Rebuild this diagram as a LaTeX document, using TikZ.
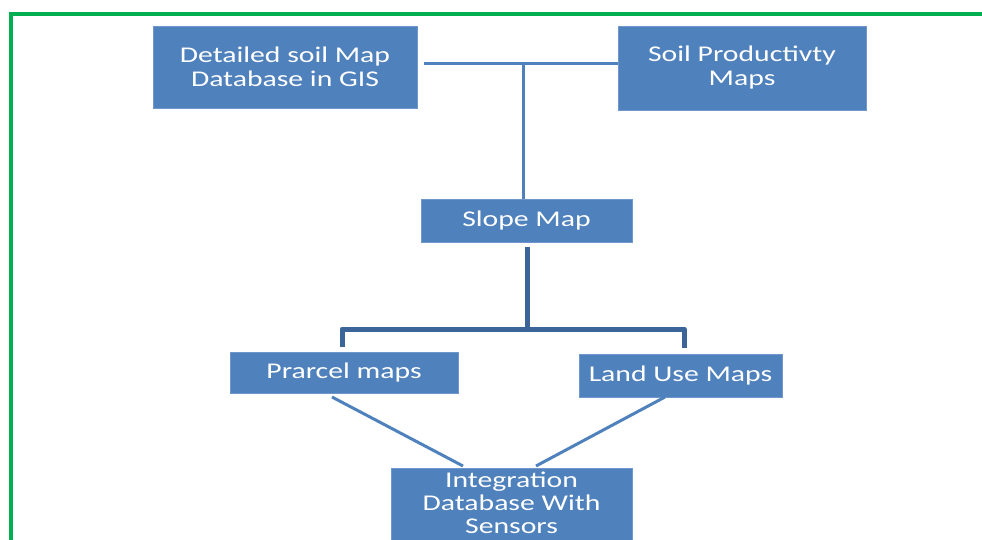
\documentclass[tikz,border=0pt]{standalone}
\usepackage{fontspec}
\newfontfamily\boxfont[FakeStretch=1.32]{Carlito}
\definecolor{boxblue}{HTML}{4F81BD}
\definecolor{boxedge}{HTML}{6F97CB}
\definecolor{darkline}{HTML}{3B6498}
\definecolor{frame}{HTML}{00B050}
\tikzset{
  boxtext/.style={text=white, align=center, inner sep=0pt,
    font=\boxfont\fontsize{22.5}{24}\selectfont},
  boxnode/.style={rectangle, fill=boxblue, draw=boxedge, line width=0.8pt, boxtext},
  thinlink/.style={draw=boxblue, line width=3pt},
  thicklink/.style={draw=darkline, line width=5pt, line join=round},
}
\begin{document}
\begin{tikzpicture}[x=1pt,y=-1pt]
\useasboundingbox (0,0) rectangle (982,540);
\begin{scope}
\clip (0,0) rectangle (982,540);
% frame
\draw[frame, line width=4pt] (11,560) -- (11,14) -- (1000,14);
% boxes
\node[boxnode, minimum width=264, minimum height=82] (b1) at (285,67)
  {Detailed soil Map\\Database in GIS};
\node[boxnode, minimum width=248, minimum height=84] (b2) at (742,68)
  {Soil Productivty\\Maps};
\node[boxnode, minimum width=211, minimum height=43] (slope) at (526.5,220.5)
  {Slope Map};
\node[boxnode, minimum width=228, minimum height=41] (parcel) at (344,372.5)
  {Prarcel maps};
\node[boxnode, minimum width=203, minimum height=43] (land) at (680.5,375.5)
  {Land Use Maps};
\node[boxnode, minimum width=241, minimum height=76,
  label={[boxtext, font=\boxfont\fontsize{22.5}{23}\selectfont, yshift=3pt]center:{Integration\\Database With\\Sensors}}]
  (integ) at (511.5,506) {};
% top connector
\coordinate (j1) at (523,64);
\coordinate (s1) at (424,64);
\draw[thinlink] (s1) -- (b2.west |- j1);
\draw[thinlink] (j1) -- (j1 |- slope.north);
% slope to lower boxes
\coordinate (j2) at (527.5,329);
\coordinate (t2) at (527.5,247);
\coordinate (l2) at (342,347);
\coordinate (r2) at (684,348);
\draw[thicklink] (t2) -- (j2);
\draw[thicklink] (l2) -- (l2 |- j2) -- (r2 |- j2) -- (r2);
% diagonals
\coordinate (pa) at (332,397);
\coordinate (pb) at (463,466);
\coordinate (la) at (665,397);
\coordinate (lb) at (536,466);
\draw[thinlink] (pa) -- (pb);
\draw[thinlink] (la) -- (lb);
\end{scope}
\end{tikzpicture}
\end{document}
